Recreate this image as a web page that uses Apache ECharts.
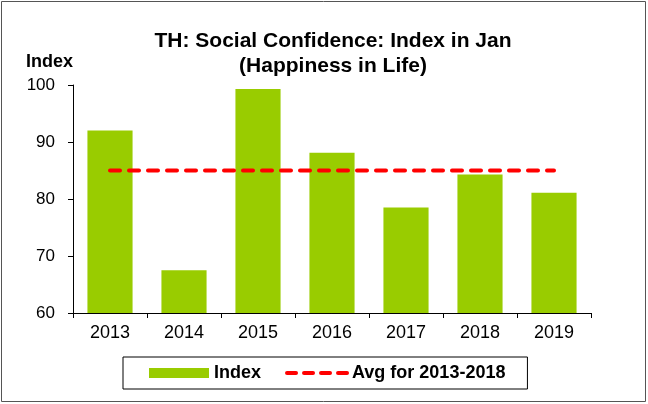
<!DOCTYPE html>
<html><head><meta charset="utf-8">
<script src="https://cdn.jsdelivr.net/npm/echarts@6/dist/echarts.min.js"></script>
<style>html,body{margin:0;padding:0;background:#fff}#c{width:648px;height:404px}</style>
</head><body><div id="c"></div>
<script>
var categories = ['2013','2014','2015','2016','2017','2018','2019'];
var indexValues = [92.0, 67.5, 99.3, 88.1, 78.5, 84.3, 81.1];
var avgValues = [85.0, 85.0, 85.0, 85.0, 85.0, 85.0, 85.0];
var yTicks = {min: 60, max: 100, interval: 10};

var chart = echarts.init(document.getElementById('c'));
var F = '"Liberation Sans", Arial, sans-serif';
chart.setOption({
  animation: false,
  graphic: [{type:'rect', shape:{x:1.5,y:1.5,width:644,height:400}, style:{fill:'none', stroke:'#555', lineWidth:1}, silent:true}],
  title: {
    text: 'TH: Social Confidence: Index in Jan\n(Happiness in Life)',
    left: 328, top: 24, textAlign: 'center',
    textStyle: {fontFamily: F, fontWeight: 'bold', fontSize: 21, color: '#000', lineHeight: 25}
  },
  grid: {left: 73, right: 57, top: 85, bottom: 91, containLabel: false},
  legend: {
    left: 123, top: 357,
    borderColor: '#000', borderWidth: 1, padding: [7, 22, 7, 26],
    itemWidth: 60, itemHeight: 10, itemGap: 24,
    textStyle: {fontFamily: F, fontWeight: 'bold', fontSize: 18, color: '#000'},
    data: [{name: 'Index', icon: 'rect'},
           {name: 'Avg for 2013-2018', itemStyle: {opacity: 0},
            lineStyle: {color: '#FF0000', width: 4, type: [9, 8], cap: 'round'}}]
  },
  xAxis: {
    type: 'category', data: categories,
    axisLine: {lineStyle: {color: '#000', width: 1}},
    axisTick: {show: true, length: 5, lineStyle: {color: '#000'}},
    axisLabel: {fontFamily: F, fontSize: 18, color: '#000', margin: 11}
  },
  yAxis: {
    type: 'value', min: yTicks.min, max: yTicks.max, interval: yTicks.interval,
    name: 'Index', nameLocation: 'end', nameGap: 14,
    nameTextStyle: {fontFamily: F, fontWeight: 'bold', fontSize: 18, color: '#000', align: 'right'},
    axisLine: {show: true, lineStyle: {color: '#000', width: 1}},
    axisTick: {show: true, length: 5, lineStyle: {color: '#000'}},
    splitLine: {show: false},
    axisLabel: {fontFamily: F, fontSize: 17, color: '#000', margin: 18}
  },
  series: [
    {name: 'Index', type: 'bar', data: indexValues, barWidth: '61%',
     itemStyle: {color: '#99CC00'}},
    {name: 'Avg for 2013-2018', type: 'line', data: avgValues, symbol: 'none',
     lineStyle: {color: '#FF0000', width: 4, type: [10, 9], cap: 'round'},
     itemStyle: {color: '#FF0000'}}
  ]
});
</script></body></html>
